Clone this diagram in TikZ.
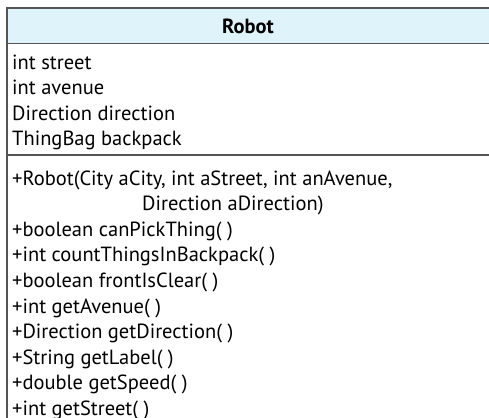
\documentclass[tikz,border=0pt]{standalone}
\usepackage{fontspec}
\setmainfont{PT Sans}
\usetikzlibrary{positioning}
\definecolor{headblue}{HTML}{DFF3FA}
\definecolor{linegray}{HTML}{555555}

\begin{document}
\begin{tikzpicture}[
						x=1pt, y=-1pt,
						frame/.style = {draw=linegray, line width=1.3pt},
						member/.style = {anchor=north west, inner sep=0pt, minimum height=25.2pt, text height=15pt, text depth=4.5pt, font=\fontsize{20.5}{22}\selectfont},
						title/.style = {inner sep=0pt, font=\fontsize{20.5}{22}\selectfont\bfseries}
					]

					\useasboundingbox (0,0) rectangle (489,417);
					\clip (0,0) rectangle (489,417);

					% class box
					\fill[headblue] (7,8) rectangle (500,43.5);
					\draw[frame] (500,8) -- (7,8) -- (7,430);
					\draw[frame] (7,43.5) -- (500,43.5);
					\draw[frame] (7,155) -- (500,155);

					\node[title] (name) at (248,26) {Robot};

					% attributes
					\node[member] (a1) at (12,51) {int street};
					\node[member] (a2) at (a1.south west) {int avenue};
					\node[member] (a3) at (a2.south west) {Direction direction};
					\node[member] (a4) at (a3.south west) {ThingBag backpack};

					% operations
					\node[member] (m1) at (12,167) {+Robot(City aCity, int aStreet, int anAvenue,};
					\node[member, xshift=130pt] (m1b) at (m1.south west) {Direction aDirection)};
					\node[member] (m2) at (m1.south west |- m1b.south) {+boolean canPickThing( )};
					\node[member] (m3) at (m2.south west) {+int countThingsInBackpack( )};
					\node[member] (m4) at (m3.south west) {+boolean frontIsClear( )};
					\node[member] (m5) at (m4.south west) {+int getAvenue( )};
					\node[member] (m6) at (m5.south west) {+Direction getDirection( )};
					\node[member] (m7) at (m6.south west) {+String getLabel( )};
					\node[member] (m8) at (m7.south west) {+double getSpeed( )};
					\node[member] (m9) at (m8.south west) {+int getStreet( )};
				\end{tikzpicture}
\end{document}
